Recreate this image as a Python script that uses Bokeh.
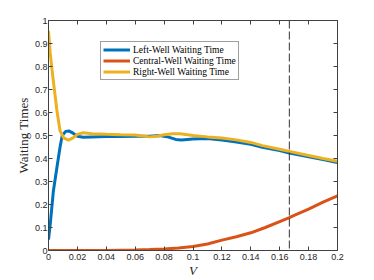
from bokeh.plotting import figure
from bokeh.models import FixedTicker, LinearAxis, Legend, LegendItem, Span, Range1d
from bokeh.embed import file_html
from bokeh.resources import INLINE

# ---- data ----
v_left = [0, 0.0012, 0.0034, 0.0058, 0.008, 0.0095, 0.012, 0.014, 0.017, 0.02, 0.024,
          0.03, 0.04, 0.05, 0.06, 0.07, 0.077, 0.082, 0.088, 0.092, 0.1, 0.11, 0.12,
          0.13, 0.14, 0.148, 0.16, 0.1667, 0.18, 0.19, 0.2]
left_wait = [0.048, 0.114, 0.26, 0.36, 0.45, 0.5, 0.518, 0.52, 0.51, 0.497, 0.492,
             0.494, 0.496, 0.496, 0.497, 0.497, 0.5, 0.495, 0.483, 0.48, 0.485, 0.487, 0.48,
             0.472, 0.462, 0.449, 0.435, 0.424, 0.408, 0.395, 0.382]

v_right = [0, 0.0012, 0.003, 0.0058, 0.008, 0.0105, 0.0138, 0.017, 0.02, 0.024, 0.03,
           0.04, 0.05, 0.06, 0.065, 0.07, 0.075, 0.08, 0.086, 0.091, 0.1, 0.11, 0.12,
           0.13, 0.14, 0.148, 0.16, 0.1667, 0.18, 0.19, 0.2]
right_wait = [0.955, 0.857, 0.755, 0.61, 0.52, 0.49, 0.48, 0.49, 0.505, 0.512, 0.508,
              0.505, 0.503, 0.502, 0.498, 0.494, 0.497, 0.503, 0.508, 0.508, 0.5, 0.494, 0.489,
              0.481, 0.47, 0.456, 0.44, 0.431, 0.413, 0.4, 0.388]

v_central = [0, 0.02, 0.04, 0.06, 0.07, 0.08, 0.09, 0.1, 0.11, 0.12, 0.13, 0.14, 0.15,
             0.16, 0.1667, 0.17, 0.18, 0.19, 0.2]
central_wait = [0, 0, 0.0005, 0.002, 0.004, 0.007, 0.011, 0.017, 0.028, 0.045, 0.06, 0.077,
                0.1, 0.126, 0.143, 0.153, 0.18, 0.21, 0.238]

v_marker = 1.0 / 6.0

x_ticks = [0, 0.02, 0.04, 0.06, 0.08, 0.1, 0.12, 0.14, 0.16, 0.18, 0.2]
x_tick_labels = ["0", "0.02", "0.04", "0.06", "0.08", "0.1", "0.12", "0.14", "0.16", "0.18", "0.2"]
y_ticks = [0, 0.1, 0.2, 0.3, 0.4, 0.5, 0.6, 0.7, 0.8, 0.9, 1]
y_tick_labels = ["0", "0.1", "0.2", "0.3", "0.4", "0.5", "0.6", "0.7", "0.8", "0.9", "1"]

series_names = ["Left-Well Waiting Time", "Central-Well Waiting Time", "Right-Well Waiting Time"]
colors = ["#0072BD", "#D95319", "#EDB120"]

# ---- figure ----
p = figure(width=347, height=280, output_backend="svg", toolbar_location=None,
           x_range=Range1d(0, 0.2), y_range=Range1d(0, 1),
           min_border_left=48, min_border_top=20, min_border_bottom=30, min_border_right=10,
           x_axis_label="V", y_axis_label="Waiting Times")
p.grid.visible = False
p.outline_line_color = None
p.background_fill_color = "white"
p.border_fill_color = "white"

axc = "#404040"
tick_font = "Liberation Sans"


def style_axis(ax, ticks, labels=None, show_labels=True):
    ax.ticker = FixedTicker(ticks=ticks)
    ax.axis_line_color = axc
    ax.axis_line_width = 1
    ax.major_tick_line_color = axc
    ax.major_tick_in = 4
    ax.major_tick_out = 0
    ax.minor_tick_line_color = None
    if show_labels:
        ax.major_label_overrides = {t: l for t, l in zip(ticks, labels)}
        ax.major_label_text_font = tick_font
        ax.major_label_text_font_size = "9px"
        ax.major_label_text_color = "#262626"
    else:
        ax.major_label_text_font_size = "0px"
        ax.major_label_text_color = None
        ax.major_label_standoff = 0


style_axis(p.xaxis[0], x_ticks, x_tick_labels)
p.xaxis[0].major_label_standoff = 3
p.xaxis[0].axis_label_standoff = 0
p.xaxis[0].axis_label_text_font = "Liberation Serif"
p.xaxis[0].axis_label_text_font_style = "italic"
p.xaxis[0].axis_label_text_font_size = "13px"
p.xaxis[0].axis_label_text_color = "#262626"

style_axis(p.yaxis[0], y_ticks, y_tick_labels)
p.yaxis[0].major_label_standoff = 1
p.yaxis[0].axis_label_standoff = 1
p.yaxis[0].axis_label_text_font = "Liberation Serif"
p.yaxis[0].axis_label_text_font_style = "normal"
p.yaxis[0].axis_label_text_font_size = "13px"
p.yaxis[0].axis_label_text_color = "#262626"

top_ax = LinearAxis()
style_axis(top_ax, x_ticks, show_labels=False)
p.add_layout(top_ax, "above")
right_ax = LinearAxis()
style_axis(right_ax, y_ticks, show_labels=False)
p.add_layout(right_ax, "right")

# ---- lines ----
r_left = p.line(v_left, left_wait, line_color=colors[0], line_width=3)
r_central = p.line(v_central, central_wait, line_color=colors[1], line_width=3)
r_right = p.line(v_right, right_wait, line_color=colors[2], line_width=3)

p.add_layout(Span(location=v_marker, dimension="height", line_color="#333333",
                  line_width=1, line_dash="8 3"))

legend = Legend(items=[LegendItem(label=series_names[0], renderers=[r_left]),
                       LegendItem(label=series_names[1], renderers=[r_central]),
                       LegendItem(label=series_names[2], renderers=[r_right])],
                location=(52, 170), orientation="vertical")
legend.margin = 0
legend.padding = 2
legend.spacing = 0
legend.glyph_width = 27
legend.glyph_height = 11
legend.label_height = 11
legend.label_standoff = 3
legend.label_text_font = "Liberation Serif"
legend.label_text_font_size = "9.5px"
legend.label_text_color = "#000000"
legend.border_line_color = "#404040"
legend.border_line_width = 1
legend.background_fill_color = "white"
legend.background_fill_alpha = 1
p.add_layout(legend, "center")

open("out.html", "w").write(file_html(p, INLINE))
